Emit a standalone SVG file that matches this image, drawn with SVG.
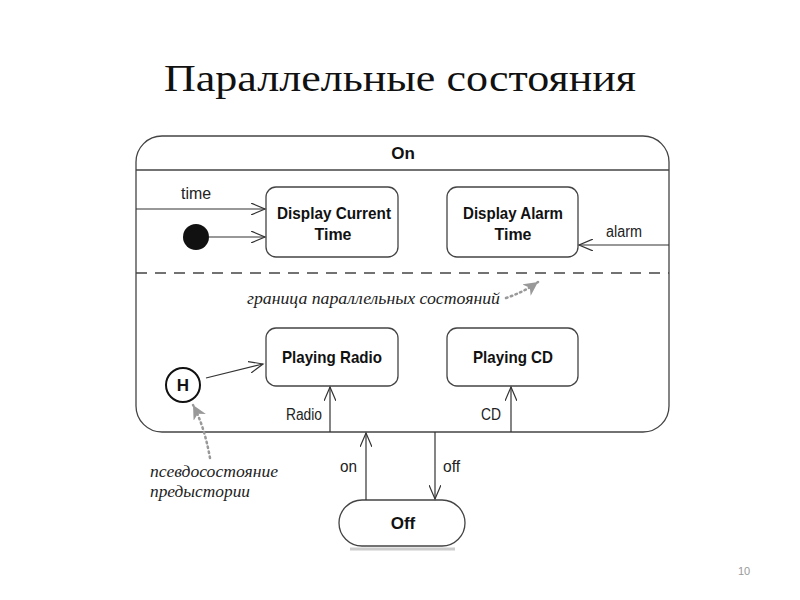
<svg xmlns="http://www.w3.org/2000/svg" width="800" height="600" viewBox="0 0 800 600">
<style>
.st{fill:#fff;stroke:#444;stroke-width:1.3}
.ln{fill:none;stroke:#333;stroke-width:1.2}
.lbl{font-family:"Liberation Sans",Arial,sans-serif;font-size:16px;fill:#222}
.nm{font-family:"Liberation Sans",Arial,sans-serif;font-size:17px;font-weight:bold;fill:#111;text-anchor:middle}
.note{font-family:"Liberation Serif","DejaVu Serif",serif;font-style:italic;font-size:16px;fill:#222}
.dot{fill:none;stroke:#999;stroke-width:2.5;stroke-dasharray:1.5 3.5;stroke-linecap:round}
</style>
<defs>
<marker id="open" markerWidth="16" markerHeight="12" refX="14" refY="6" orient="auto" markerUnits="userSpaceOnUse">
<path d="M0,0 L14,6 L0,12" fill="none" stroke="#333" stroke-width="1.2"/>
</marker>
<marker id="gray" markerWidth="16" markerHeight="14" refX="14" refY="7" orient="auto" markerUnits="userSpaceOnUse">
<path d="M0,0 L14,7 L0,14 L4,7 Z" fill="#999"/>
</marker>
</defs>
<rect width="800" height="600" fill="#fff"/>
<text x="400" y="91" text-anchor="middle" font-family="Liberation Serif,Times New Roman,serif" font-size="38" fill="#111" textLength="472" lengthAdjust="spacingAndGlyphs">Параллельные состояния</text>

<g id="On">
<rect class="st" x="136" y="136" width="533" height="296" rx="26"/>
<line x1="136" y1="170" x2="669" y2="170" stroke="#444" stroke-width="1.3"/>
<text class="nm" x="403" y="159">On</text>
<line x1="136" y1="273" x2="669" y2="273" stroke="#444" stroke-width="1.3" stroke-dasharray="11 8"/>
</g>

<g id="DisplayCurrentTime">
<rect class="st" x="266" y="187" width="132" height="70" rx="10"/>
<text class="nm" x="334" y="219" textLength="114" lengthAdjust="spacingAndGlyphs">Display Current</text>
<text class="nm" x="333" y="240" textLength="37" lengthAdjust="spacingAndGlyphs">Time</text>
</g>
<g id="DisplayAlarmTime">
<rect class="st" x="447" y="187" width="131" height="70" rx="10"/>
<text class="nm" x="513" y="219" textLength="100" lengthAdjust="spacingAndGlyphs">Display Alarm</text>
<text class="nm" x="513" y="240" textLength="37" lengthAdjust="spacingAndGlyphs">Time</text>
</g>
<g id="PlayingRadio">
<rect class="st" x="266" y="328" width="132" height="58" rx="10"/>
<text class="nm" x="332" y="363" textLength="100" lengthAdjust="spacingAndGlyphs">Playing Radio</text>
</g>
<g id="PlayingCD">
<rect class="st" x="447" y="328" width="131" height="58" rx="10"/>
<text class="nm" x="513" y="363" textLength="80" lengthAdjust="spacingAndGlyphs">Playing CD</text>
</g>
<g id="Initial">
<circle cx="196" cy="237" r="13" fill="#111"/>
</g>
<g id="History">
<circle cx="183" cy="385" r="17" fill="#fff" stroke="#111" stroke-width="2"/>
<text class="nm" x="183" y="391" font-size="15">H</text>
</g>
<g id="Off">
<rect class="st" x="339" y="500" width="126" height="46" rx="23"/>
<text class="nm" x="403" y="529">Off</text>
<line x1="350" y1="549" x2="455" y2="549" stroke="#ccc" stroke-width="3"/>
</g>

<g id="connectors">
<line class="ln" x1="136" y1="209" x2="265" y2="209" marker-end="url(#open)"/>
<text class="lbl" x="181" y="199" textLength="30" lengthAdjust="spacingAndGlyphs">time</text>
<line class="ln" x1="209" y1="237" x2="265" y2="237" marker-end="url(#open)"/>
<line class="ln" x1="669" y1="245" x2="579" y2="245" marker-end="url(#open)"/>
<text class="lbl" x="606" y="237" textLength="36" lengthAdjust="spacingAndGlyphs">alarm</text>
<line class="ln" x1="206" y1="378" x2="263" y2="364" marker-end="url(#open)"/>
<line class="ln" x1="330" y1="432" x2="330" y2="387" marker-end="url(#open)"/>
<text class="lbl" x="286" y="420" textLength="36" lengthAdjust="spacingAndGlyphs">Radio</text>
<line class="ln" x1="511" y1="432" x2="511" y2="387" marker-end="url(#open)"/>
<text class="lbl" x="481" y="420" textLength="20" lengthAdjust="spacingAndGlyphs">CD</text>
<line class="ln" x1="366" y1="500" x2="366" y2="433" marker-end="url(#open)"/>
<text class="lbl" x="340" y="472" textLength="17" lengthAdjust="spacingAndGlyphs">on</text>
<line class="ln" x1="435" y1="432" x2="435" y2="499" marker-end="url(#open)"/>
<text class="lbl" x="443" y="472" textLength="17" lengthAdjust="spacingAndGlyphs">off</text>
<path class="dot" d="M506,298 Q524,292 538,282" marker-end="url(#gray)"/>
<path class="dot" d="M210,458 Q204,425 193,405" marker-end="url(#gray)"/>
</g>

<text class="note" x="247" y="304" textLength="253" lengthAdjust="spacingAndGlyphs">граница параллельных состояний</text>
<text class="note" x="150" y="477" textLength="128" lengthAdjust="spacingAndGlyphs">псевдосостояние</text>
<text class="note" x="150" y="497" textLength="100" lengthAdjust="spacingAndGlyphs">предыстории</text>
<text x="744" y="575" text-anchor="middle" font-family="Liberation Sans,Arial,sans-serif" font-size="11" fill="#999">10</text>
</svg>
